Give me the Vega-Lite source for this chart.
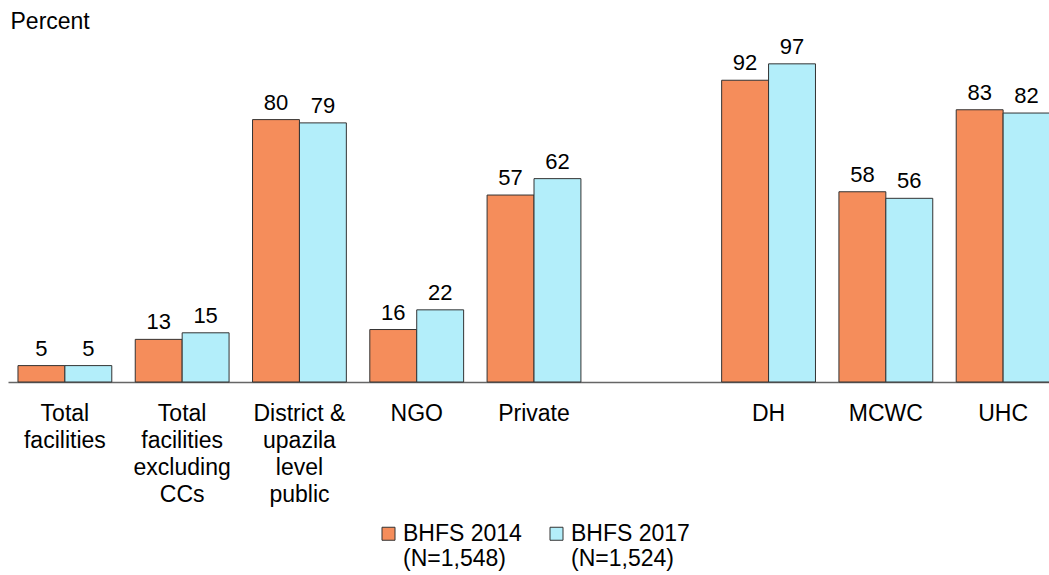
{
  "$schema": "https://vega.github.io/schema/vega-lite/v6.json",
  "width": 1040,
  "height": 328,
  "autosize": "none",
  "padding": {"left": 8, "top": 54, "right": 1, "bottom": 193},
  "background": "white",
  "config": {
    "view": {"stroke": null},
    "font": "Liberation Sans",
    "text": {"font": "Liberation Sans"}
  },
  "data": {
    "values": [
      {"category": "Total facilities", "survey": "BHFS 2014 (N=1,548)", "value": 5},
      {"category": "Total facilities", "survey": "BHFS 2017 (N=1,524)", "value": 5},
      {"category": "Total facilities excluding CCs", "survey": "BHFS 2014 (N=1,548)", "value": 13},
      {"category": "Total facilities excluding CCs", "survey": "BHFS 2017 (N=1,524)", "value": 15},
      {"category": "District & upazila level public", "survey": "BHFS 2014 (N=1,548)", "value": 80},
      {"category": "District & upazila level public", "survey": "BHFS 2017 (N=1,524)", "value": 79},
      {"category": "NGO", "survey": "BHFS 2014 (N=1,548)", "value": 16},
      {"category": "NGO", "survey": "BHFS 2017 (N=1,524)", "value": 22},
      {"category": "Private", "survey": "BHFS 2014 (N=1,548)", "value": 57},
      {"category": "Private", "survey": "BHFS 2017 (N=1,524)", "value": 62},
      {"category": "DH", "survey": "BHFS 2014 (N=1,548)", "value": 92},
      {"category": "DH", "survey": "BHFS 2017 (N=1,524)", "value": 97},
      {"category": "MCWC", "survey": "BHFS 2014 (N=1,548)", "value": 58},
      {"category": "MCWC", "survey": "BHFS 2017 (N=1,524)", "value": 56},
      {"category": "UHC", "survey": "BHFS 2014 (N=1,548)", "value": 83},
      {"category": "UHC", "survey": "BHFS 2017 (N=1,524)", "value": 82}
    ]
  },
  "encoding": {
    "x": {
      "field": "category",
      "type": "nominal",
      "scale": {
        "domain": ["Total facilities", "Total facilities excluding CCs", "District & upazila level public", "NGO", "Private", " ", "DH", "MCWC", "UHC"],
        "range": [0, 1052],
        "paddingInner": 0.2,
        "paddingOuter": 0.085
      },
      "axis": {
        "title": null,
        "labelAngle": 0,
        "labelFontSize": 23,
        "labelColor": "black",
        "labelPadding": 20,
        "labelLineHeight": 27,
        "labelBaseline": "top",
        "ticks": false,
        "domainColor": "#666666",
        "domainWidth": 1.5,
        "labelExpr": "datum.value == 'Total facilities' ? ['Total', 'facilities'] : datum.value == 'Total facilities excluding CCs' ? ['Total', 'facilities', 'excluding', 'CCs'] : datum.value == 'District & upazila level public' ? ['District &', 'upazila', 'level', 'public'] : datum.value"
      }
    },
    "xOffset": {"field": "survey", "type": "nominal", "sort": ["BHFS 2014 (N=1,548)", "BHFS 2017 (N=1,524)"]},
    "y": {
      "field": "value",
      "type": "quantitative",
      "scale": {"domain": [0, 100]},
      "axis": {
        "title": "Percent",
        "titleAngle": 0,
        "titleAlign": "left",
        "titleBaseline": "alphabetic",
        "titleFontSize": 23,
        "titleFontWeight": "normal",
        "titleColor": "black",
        "titleX": 2,
        "titleY": -26,
        "labels": false,
        "ticks": false,
        "domain": false,
        "grid": false
      }
    }
  },
  "layer": [
    {
      "mark": {"type": "bar", "stroke": "#333333", "strokeWidth": 1},
      "encoding": {
        "color": {
          "field": "survey",
          "type": "nominal",
          "scale": {"domain": ["BHFS 2014 (N=1,548)", "BHFS 2017 (N=1,524)"], "range": ["#F58D5B", "#B3EEFA"]},
          "legend": {
            "title": null,
            "orient": "none",
            "legendX": 369,
            "legendY": 468,
            "direction": "horizontal",
            "columns": 2,
            "columnPadding": 23,
            "symbolType": "square",
            "symbolSize": 169,
            "symbolStrokeColor": "#333333",
            "symbolStrokeWidth": 1,
            "symbolOpacity": 1,
            "labelFontSize": 23,
            "labelColor": "black",
            "labelLineHeight": 26,
            "labelBaseline": "middle",
            "labelOffset": 3,
            "labelExpr": "split(datum.label, ' (')[0] == datum.label ? datum.label : [split(datum.label, ' (')[0], '(' + split(datum.label, ' (')[1]]"
          }
        }
      }
    },
    {
      "mark": {"type": "text", "baseline": "bottom", "dy": -5, "fontSize": 22, "color": "black"},
      "encoding": {"text": {"field": "value", "type": "quantitative"}}
    }
  ]
}
